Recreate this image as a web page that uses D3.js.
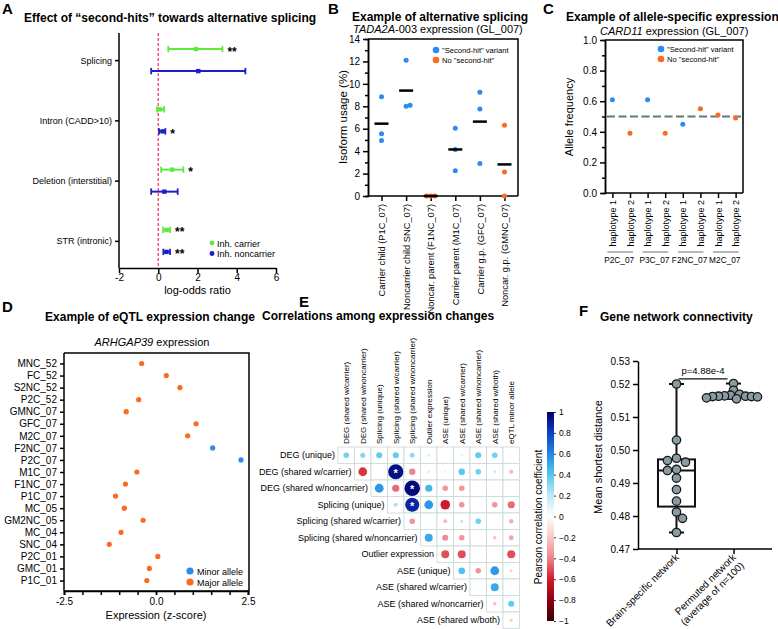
<!DOCTYPE html>
<html><head><meta charset="utf-8">
<script src="https://cdn.jsdelivr.net/npm/d3@7"></script>
<style>
body{margin:0;background:#fff;}
svg{display:block;}
</style></head><body>
<svg id="fig" width="778" height="629"></svg>
<script>
// ================= DATA =================
// Panel A
const aCats = ["Splicing","Intron (CADD>10)","Deletion (interstitial)","STR (intronic)"];
const aCarrierEst = [1.93, 0.10, 0.71, 0.43];
const aCarrierLo  = [0.51, -0.06, 0.15, 0.25];
const aCarrierHi  = [3.27, 0.30, 1.28, 0.60];
const aNoncarEst  = [2.04, 0.22, 0.31, 0.42];
const aNoncarLo   = [-0.36, 0.04, -0.36, 0.26];
const aNoncarHi   = [4.44, 0.36, 0.99, 0.60];
const aCarrierSig = ["**", "", "*", "**"];
const aNoncarSig  = ["", "*", "", "**"];
const aTicks = [-2, 0, 2, 4, 6];

// Panel B
const bCats = ["Carrier child (P1C_07)","Noncarrier child SNC_07)","Noncar. parent (F1NC_07)","Carrier parent (M1C_07)","Carrier g.p. (GFC_07)","Noncar. g.p. (GMNC_07)"];
const bGroup = ["hit","hit","none","hit","hit","none"];
const bValues = [[8.85,5.55,4.95],[12.1,8.0,8.1],[0,0,0],[6.05,4.15,2.25],[9.25,7.75,2.9],[6.3,2.15,0]];
const bTicks = [0,2,4,6,8,10,12,14];

// Panel C
const cHaplotypes = ["haplotype 1","haplotype 2","haplotype 1","haplotype 2","haplotype 1","haplotype 2","haplotype 1","haplotype 2"];
const cSamples = ["P2C_07","P3C_07","F2NC_07","M2C_07"];
const cValues = [0.61,0.39,0.61,0.39,0.45,0.55,0.51,0.49];
const cGroup = ["hit","none","hit","none","hit","none","none","none"];
const cTicks = [0,0.2,0.4,0.6,0.8,1.0];

// Panel D
const dSamples = ["MNC_52","FC_52","S2NC_52","P2C_52","GMNC_07","GFC_07","M2C_07","F2NC_07","P2C_07","M1C_07","F1NC_07","P1C_07","MC_05","GM2NC_05","MC_04","SNC_04","P2C_01","GMC_01","P1C_01"];
const dValues = [-0.39,0.28,0.65,-0.47,-0.81,1.09,0.86,1.54,2.31,-0.52,-0.83,-1.10,-0.86,-0.35,-0.95,-1.27,0.05,-0.18,-0.25];
const dAllele = ["major","major","major","major","major","major","major","minor","minor","major","major","major","major","major","major","major","major","major","major"];
const dTicks = [-2.5, 0, 2.5];

// Panel E
const eRowLabels = ["DEG (unique)","DEG (shared w/carrier)","DEG (shared w/noncarrier)","Splicing (unique)","Splicing (shared w/carrier)","Splicing (shared w/noncarrier)","Outlier expression","ASE (unique)","ASE (shared w/carrier)","ASE (shared w/noncarrier)","ASE (shared w/both)"];
const eColLabels = ["DEG (shared w/carrier)","DEG (shared w/noncarrier)","Splicing (unique)","Splicing (shared w/carrier)","Splicing (shared w/noncarrier)","Outlier expression","ASE (unique)","ASE (shared w/carrier)","ASE (shared w/noncarrier)","ASE (shared w/both)","eQTL minor allele"];
const eCorr = [
  [0.35, 0.32, 0.38, 0.38, 0.30, 0.15, 0.05, 0.12, 0.38, 0.35, 0.0],
  [-0.55, 0.0, 0.95, -0.40, -0.15, -0.12, 0.40, 0.35, 0.18, -0.25],
  [0.55, -0.45, 0.97, 0.45, -0.35, -0.35, 0.03, -0.10, -0.08],
  [0.25, 0.88, 0.55, -0.60, -0.35, 0.03, -0.35, -0.45],
  [-0.35, 0.0, -0.25, 0.20, 0.35, 0.03, -0.28],
  [0.50, -0.38, -0.35, 0.02, -0.22, -0.30],
  [-0.50, -0.50, 0.06, 0.02, -0.50],
  [0.42, -0.35, 0.55, -0.18],
  [0.05, 0.50, 0.05],
  [-0.22, 0.38],
  [-0.20]
];
const eSignificant = [[1,3],[2,4],[3,4]]; // [row, col]
const eBarTicks = [1,0.8,0.6,0.4,0.2,0,-0.2,-0.4,-0.6,-0.8,-1];

// Panel F
const fCats = ["Brain-specific network","Permuted network (average of n=100)"];
const fCatLines = [["Brain-specific network"],["Permuted network","(average of n=100)"]];
const fBrain = [0.520,0.503,0.4975,0.4963,0.4968,0.4941,0.4938,0.4915,0.488,0.4845,0.4812,0.4793,0.475];
const fPermuted = [0.5202,0.5181,0.5169,0.5166,0.5164,0.5163,0.5163,0.5162,0.5162,0.5161,0.5158,0.5155];
const fTicks = [0.47,0.48,0.49,0.50,0.51,0.52,0.53];
const fPValue = "p=4.88e-4";

// ================= DRAWING =================
const FONT = "'Liberation Sans', Arial, Helvetica, sans-serif";
const BLUE = "#2a8cf0", ORANGE = "#fa6a22";
const svg = d3.select("#fig").attr("font-family", FONT);

function label(g, x, y, s, size, o = {}) {
  const t = g.append("text").attr("x", x).attr("y", y).attr("font-size", size).text(s);
  if (o.bold) t.attr("font-weight", "bold");
  if (o.anchor) t.attr("text-anchor", o.anchor);
  if (o.italic) t.attr("font-style", "italic");
  if (o.rotate !== undefined) t.attr("transform", `rotate(${o.rotate},${x},${y})`);
  if (o.fill) t.attr("fill", o.fill);
  return t;
}
function styleAxis(g, fs, sw = 1.5) {
  g.attr("font-family", FONT).attr("font-size", fs);
  g.selectAll("path,line").attr("stroke", "#000").attr("stroke-width", sw);
  g.selectAll("text").attr("fill", "#000");
}
function swarm(vals, yScale, minDist, step) {
  const placed = [], offs = [];
  vals.forEach(v => {
    const y = yScale(v);
    let off = 0;
    for (let t = 0; t < 60; t++) {
      const cand = t === 0 ? 0 : (t % 2 ? 1 : -1) * Math.ceil(t / 2) * step;
      if (placed.every(p => Math.hypot(p.x - cand, p.y - y) >= minDist)) { off = cand; break; }
    }
    placed.push({x: off, y}); offs.push(off);
  });
  return offs;
}

// ---------- Panel A ----------
{
  const g = svg.append("g");
  label(g, 2, 14, "A", 15, {bold: true});
  label(g, 24, 22, "Effect of “second-hits” towards alternative splicing", 12, {bold: true});
  const x = d3.scaleLinear().domain([-2, 6]).range([119, 276]);
  const y = d3.scalePoint().domain(aCats).range([33, 268]).padding(0.45);
  g.append("line").attr("x1", x(0)).attr("x2", x(0)).attr("y1", 33).attr("y2", 268)
    .attr("stroke", "#ff2a55").attr("stroke-width", 1.2).attr("stroke-dasharray", "3,2");
  const gx = g.append("g").attr("transform", "translate(0,268)")
    .call(d3.axisBottom(x).tickValues(aTicks).tickSize(5).tickSizeOuter(0).tickFormat(d => String(d)));
  styleAxis(gx, 10);
  gx.selectAll(".tick text").attr("y", 6);
  const gy = g.append("g").attr("transform", "translate(119,0)")
    .call(d3.axisLeft(y).tickSize(4).tickSizeOuter(0));
  styleAxis(gy, 9);
  gy.select(".domain").attr("d", "M0,33V268");
  label(g, x(2), 294, "log-odds ratio", 11, {anchor: "middle"});
  const series = [
    {name: "Inh. carrier", est: aCarrierEst, lo: aCarrierLo, hi: aCarrierHi, sig: aCarrierSig, color: "#5fe83e", dy: -11},
    {name: "Inh. noncarrier", est: aNoncarEst, lo: aNoncarLo, hi: aNoncarHi, sig: aNoncarSig, color: "#1c1ec8", dy: 11}
  ];
  series.forEach((s, si) => {
    aCats.forEach((c, i) => {
      const yy = y(c) + s.dy;
      g.append("line").attr("x1", x(s.lo[i])).attr("x2", x(s.hi[i])).attr("y1", yy).attr("y2", yy)
        .attr("stroke", s.color).attr("stroke-width", 2);
      [s.lo[i], s.hi[i]].forEach(v => g.append("line").attr("x1", x(v)).attr("x2", x(v))
        .attr("y1", yy - 3.2).attr("y2", yy + 3.2).attr("stroke", s.color).attr("stroke-width", 1.8));
      g.append("rect").attr("x", x(s.est[i]) - 2.2).attr("y", yy - 2.2).attr("width", 4.4).attr("height", 4.4).attr("fill", s.color);
      if (s.sig[i]) label(g, x(s.hi[i]) + 5, yy + 6.5, s.sig[i], 12, {bold: true});
    });
    g.append("circle").attr("cx", 212).attr("cy", 243 + si * 10.5).attr("r", 2.4).attr("fill", s.color);
    label(g, 217, 246.5 + si * 10.5, s.name, 9);
  });
}

// ---------- Panel B ----------
{
  const g = svg.append("g");
  label(g, 328, 14, "B", 15, {bold: true});
  label(g, 352, 21, "Example of alternative splicing", 12, {bold: true});
  const st = label(g, 353, 33, "", 11);
  st.append("tspan").attr("font-style", "italic").text("TADA2A");
  st.append("tspan").text("-003 expression (GL_007)");
  const x = d3.scalePoint().domain(bCats).range([368, 518]).padding(0.55);
  const y = d3.scaleLinear().domain([0, 14]).range([196, 39]);
  const gyMinor = g.append("g").attr("transform", "translate(368,0)")
    .call(d3.axisLeft(y).tickValues(d3.range(1, 14, 2)).tickSize(3).tickFormat(""));
  styleAxis(gyMinor, 10);
  const gy = g.append("g").attr("transform", "translate(368,0)")
    .call(d3.axisLeft(y).tickValues(bTicks).tickSize(5).tickSizeOuter(0));
  styleAxis(gy, 10);
  const gx = g.append("g").attr("transform", "translate(0,196)")
    .call(d3.axisBottom(x).tickSize(5).tickSizeOuter(0));
  styleAxis(gx, 9.3);
  gx.select(".domain").attr("d", "M368,0H518");
  gx.selectAll(".tick text").attr("transform", "rotate(-90)").attr("text-anchor", "end")
    .attr("x", -8).attr("y", 0).attr("dy", "0.35em");
  g.append("path").attr("d", "M368,39H518V196").attr("fill", "none").attr("stroke", "#000").attr("stroke-width", 1.5);
  label(g, 347, 117, "Isoform usage (%)", 11.5, {anchor: "middle", rotate: -90});
  bCats.forEach((c, i) => {
    const offs = swarm(bValues[i], y, 3.6, 2);
    bValues[i].forEach((v, k) => {
      g.append("circle").attr("cx", x(c) + offs[k]).attr("cy", y(v)).attr("r", 2.5)
        .attr("fill", bGroup[i] === "hit" ? BLUE : ORANGE);
    });
    const m = d3.mean(bValues[i]);
    g.append("line").attr("x1", x(c) - 7).attr("x2", x(c) + 7).attr("y1", y(m)).attr("y2", y(m))
      .attr("stroke", "#000").attr("stroke-width", 2.5);
  });
  [["\"Second-hit\" variant", BLUE], ["No \"second-hit\"", ORANGE]].forEach((d, i) => {
    g.append("circle").attr("cx", 436).attr("cy", 50 + i * 10).attr("r", 3.3).attr("fill", d[1]);
    label(g, 442, 53 + i * 10, d[0], 7.6);
  });
}

// ---------- Panel C ----------
{
  const g = svg.append("g");
  label(g, 543, 14, "C", 15, {bold: true});
  label(g, 566, 21, "Example of allele-specific expression", 12, {bold: true});
  const st = label(g, 600, 35, "", 11);
  st.append("tspan").attr("font-style", "italic").text("CARD11");
  st.append("tspan").text(" expression (GL_007)");
  const ids = cValues.map((_, i) => i);
  const x = d3.scalePoint().domain(ids).range([605, 743]).padding(0.42);
  const y = d3.scaleLinear().domain([0, 1]).range([193, 40]);
  const gyMinor = g.append("g").attr("transform", "translate(605,0)")
    .call(d3.axisLeft(y).tickValues(d3.range(0.1, 1, 0.2)).tickSize(3).tickFormat(""));
  styleAxis(gyMinor, 10);
  const gy = g.append("g").attr("transform", "translate(605,0)")
    .call(d3.axisLeft(y).tickValues(cTicks).tickSize(5).tickSizeOuter(0).tickFormat(d3.format(".1f")));
  styleAxis(gy, 10);
  const gx = g.append("g").attr("transform", "translate(0,193)")
    .call(d3.axisBottom(x).tickSize(5).tickSizeOuter(0).tickFormat(i => cHaplotypes[i]));
  styleAxis(gx, 9);
  gx.select(".domain").attr("d", "M605,0H743");
  gx.selectAll(".tick text").attr("transform", "rotate(-90)").attr("text-anchor", "end")
    .attr("x", -7).attr("y", 0).attr("dy", "0.35em");
  g.append("path").attr("d", "M605,40H743V193").attr("fill", "none").attr("stroke", "#000").attr("stroke-width", 1.5);
  g.append("line").attr("x1", 607).attr("x2", 741).attr("y1", y(0.5)).attr("y2", y(0.5))
    .attr("stroke", "#5e7d7b").attr("stroke-width", 2).attr("stroke-dasharray", "8,3.5");
  cValues.forEach((v, i) => {
    g.append("circle").attr("cx", x(i)).attr("cy", y(v)).attr("r", 2.5)
      .attr("fill", cGroup[i] === "hit" ? BLUE : ORANGE);
  });
  cSamples.forEach((s, k) => {
    const x1 = x(2 * k) - 5, x2 = x(2 * k + 1) + 5;
    g.append("line").attr("x1", x1).attr("x2", x2 - 2).attr("y1", 252).attr("y2", 252)
      .attr("stroke", "#888").attr("stroke-width", 1.2);
    label(g, (x1 + x2) / 2 - 2, 263, s, 8.3, {anchor: "middle"});
  });
  label(g, 573, 117, "Allele frequency", 11, {anchor: "middle", rotate: -90});
  [["\"Second-hit\" variant", BLUE], ["No \"second-hit\"", ORANGE]].forEach((d, i) => {
    g.append("circle").attr("cx", 661).attr("cy", 49 + i * 10).attr("r", 3.3).attr("fill", d[1]);
    label(g, 667, 52 + i * 10, d[0], 7.6);
  });
}

// ---------- Panel D ----------
{
  const g = svg.append("g");
  label(g, 2, 312, "D", 15, {bold: true});
  label(g, 150, 321, "Example of eQTL expression change", 12, {bold: true, anchor: "middle"});
  const st = label(g, 152, 346, "", 11, {anchor: "middle"});
  st.append("tspan").attr("font-style", "italic").text("ARHGAP39");
  st.append("tspan").text(" expression");
  const y = d3.scalePoint().domain(dSamples).range([353, 591]).padding(0.87);
  const x = d3.scaleLinear().domain([-2.5, 2.5]).range([64, 248]);
  const gxMinor = g.append("g").attr("transform", "translate(0,591)")
    .call(d3.axisBottom(x).tickValues(d3.range(-2.5, 2.51, 0.5)).tickSize(4).tickFormat(""));
  styleAxis(gxMinor, 10);
  const gx = g.append("g").attr("transform", "translate(0,591)")
    .call(d3.axisBottom(x).tickValues(dTicks).tickSize(4).tickSizeOuter(0).tickFormat(d => d.toFixed(1)));
  styleAxis(gx, 10);
  gx.select(".domain").attr("d", "M64,0H249");
  const gy = g.append("g").attr("transform", "translate(64,0)")
    .call(d3.axisLeft(y).tickSize(4).tickSizeOuter(0));
  styleAxis(gy, 10);
  gy.select(".domain").attr("d", "M0,353V591");
  g.append("path").attr("d", "M64,353H249V591").attr("fill", "none").attr("stroke", "#000").attr("stroke-width", 1.5);
  dSamples.forEach((s, i) => {
    g.append("circle").attr("cx", x(dValues[i])).attr("cy", y(s)).attr("r", 2.6)
      .attr("fill", dAllele[i] === "minor" ? BLUE : ORANGE);
  });
  label(g, 156, 619, "Expression (z-score)", 11, {anchor: "middle"});
  [["Minor allele", BLUE], ["Major allele", ORANGE]].forEach((d, i) => {
    g.append("circle").attr("cx", 190).attr("cy", 571 + i * 11).attr("r", 3.6).attr("fill", d[1]);
    label(g, 197, 574.5 + i * 11, d[0], 9);
  });
}

// ---------- Panel E ----------
{
  const g = svg.append("g");
  label(g, 299, 307, "E", 15, {bold: true});
  label(g, 262, 320, "Correlations among expression changes", 12, {bold: true});
  const cs = 16.5, left = 338, top = 447;
  const bx = d3.scaleBand().domain(d3.range(11)).range([left, left + 11 * cs]);
  const by = d3.scaleBand().domain(d3.range(11)).range([top, top + 11 * cs]);
  const stops = [[-1,"#3d0000"],[-0.8,"#8b0015"],[-0.6,"#d01a2a"],[-0.4,"#ee848c"],[-0.2,"#f8c8c8"],[0,"#ffffff"],[0.2,"#bdeaf5"],[0.4,"#55c8ec"],[0.6,"#2187e6"],[0.8,"#1040c0"],[1,"#00006e"]];
  const color = d3.scaleLinear().domain(stops.map(s => s[0])).range(stops.map(s => s[1])).interpolate(d3.interpolateRgb);
  eCorr.forEach((row, i) => {
    row.forEach((v, k) => {
      const j = i + k;
      g.append("rect").attr("x", bx(j)).attr("y", by(i)).attr("width", cs).attr("height", cs)
        .attr("fill", "#fff").attr("stroke", "#c9d8d8").attr("stroke-width", 0.8);
    });
  });
  eCorr.forEach((row, i) => {
    row.forEach((v, k) => {
      const j = i + k;
      const cx = bx(j) + cs / 2, cy = by(i) + cs / 2;
      if (Math.abs(v) > 0.005)
        g.append("circle").attr("cx", cx).attr("cy", cy).attr("r", Math.abs(v) * 8).attr("fill", color(v));
    });
    label(g, bx(i) - 3, by(i) + cs / 2 + 3, eRowLabels[i], 9, {anchor: "end"});
  });
  eSignificant.forEach(([i, j]) => {
    label(g, bx(j) + cs / 2, by(i) + cs / 2 + 5, "*", 11, {anchor: "middle", bold: true, fill: "#fff"});
  });
  eColLabels.forEach((c, j) => {
    label(g, bx(j) + cs / 2 + 3, top - 3, c, 8, {rotate: -90});
  });
  // colorbar
  const defs = svg.append("defs");
  const grad = defs.append("linearGradient").attr("id", "cbar").attr("x1", 0).attr("x2", 0).attr("y1", 1).attr("y2", 0);
  stops.forEach(s => grad.append("stop").attr("offset", (s[0] + 1) / 2).attr("stop-color", s[1]));
  const cy = d3.scaleLinear().domain([-1, 1]).range([621, 412]);
  g.append("rect").attr("x", 547).attr("y", 412).attr("width", 7).attr("height", 209).attr("fill", "url(#cbar)");
  const gc = g.append("g").attr("transform", "translate(554,0)")
    .call(d3.axisRight(cy).tickValues(eBarTicks).tickSize(2).tickSizeOuter(0)
      .tickFormat(d => d === 0 ? "0" : (d === 1 ? "1" : d === -1 ? "\u22121" : (d < 0 ? "\u2212" : "") + Math.abs(d).toFixed(1))));
  styleAxis(gc, 8.5, 0.8);
  gc.select(".domain").remove();
  label(g, 542, 517, "Pearson correlation coefficient", 10, {anchor: "middle", rotate: -90});
}

// ---------- Panel F ----------
{
  const g = svg.append("g");
  label(g, 579, 316, "F", 15, {bold: true});
  label(g, 600, 321, "Gene network connectivity", 12, {bold: true});
  const x = d3.scalePoint().domain(fCats).range([638, 772]).padding(0.675);
  // axis top segment is drawn compressed in the original figure
  const y = d3.scaleLinear().domain([0.47, 0.52, 0.53]).range([549, 384, 361]);
  const gy = g.append("g").attr("transform", "translate(638,0)")
    .call(d3.axisLeft(y).tickValues(fTicks).tickSize(5).tickSizeOuter(0).tickFormat(d3.format(".2f")));
  styleAxis(gy, 10);
  const gx = g.append("g").attr("transform", "translate(0,549)")
    .call(d3.axisBottom(x).tickSize(5).tickSizeOuter(0).tickFormat(""));
  styleAxis(gx, 10);
  gx.select(".domain").attr("d", "M638,0H772");
  fCats.forEach((c, i) => {
    const t = g.append("text").attr("font-size", 10).attr("text-anchor", "end")
      .attr("transform", `translate(${x(c) + 3},${558}) rotate(-45)`);
    fCatLines[i].forEach((ln, k) => t.append("tspan").attr("x", 0).attr("dy", k === 0 ? 0 : "1.15em").text(ln));
  });
  label(g, 602, 457, "Mean shortest distance", 11, {anchor: "middle", rotate: -90});
  function q(arr, p) { // (n+1)p quantile
    const s = arr.slice().sort(d3.ascending), n = s.length;
    const pos = (n + 1) * p - 1;
    const lo = Math.floor(pos), f = pos - lo;
    return s[lo] + (s[Math.min(lo + 1, n - 1)] - s[lo]) * f;
  }
  [fBrain, fPermuted].forEach((vals, i) => {
    const cx = x(fCats[i]);
    const q1 = q(vals, 0.25), q3 = q(vals, 0.75), med = q(vals, 0.5);
    const mn = d3.min(vals), mx = d3.max(vals);
    const ln = (x1, x2, y1, y2) => g.append("line").attr("x1", x1).attr("x2", x2).attr("y1", y1).attr("y2", y2)
      .attr("stroke", "#111").attr("stroke-width", 2);
    ln(cx, cx, y(mx), y(mn));
    ln(cx - 7.5, cx + 7.5, y(mx), y(mx));
    ln(cx - 7.5, cx + 7.5, y(mn), y(mn));
    g.append("rect").attr("x", cx - 18.5).attr("y", y(q3)).attr("width", 37).attr("height", y(q1) - y(q3))
      .attr("fill", "#fff").attr("stroke", "#111").attr("stroke-width", 2);
    ln(cx - 18.5, cx + 18.5, y(med), y(med));
    const offs = swarm(vals, y, i === 0 ? 8.4 : 5, 3);
    vals.forEach((v, k) => {
      g.append("circle").attr("cx", cx + offs[k]).attr("cy", y(v)).attr("r", 4.2)
        .attr("fill", "#8a9ca3").attr("stroke", "#1a1a1a").attr("stroke-width", 1.3);
    });
  });
  const yb = y(0.5222);
  g.append("line").attr("x1", x(fCats[0]) + 2).attr("x2", x(fCats[1]) - 6).attr("y1", yb).attr("y2", yb)
    .attr("stroke", "#111").attr("stroke-width", 1.2);
  label(g, (x(fCats[0]) + x(fCats[1])) / 2 - 2, yb - 5, fPValue, 9.5, {anchor: "middle"});
}
</script></body></html>
